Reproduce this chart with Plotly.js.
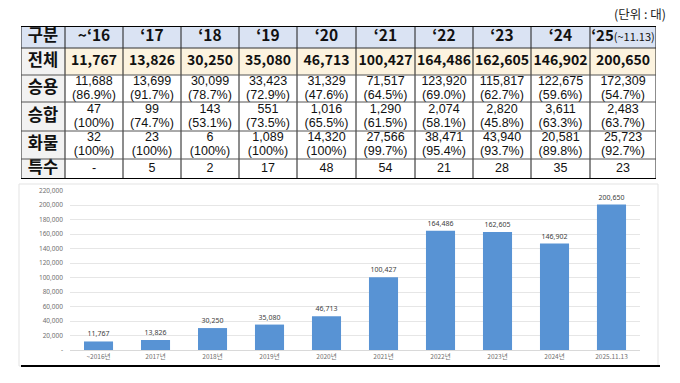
<!DOCTYPE html>
<html><head><meta charset="utf-8">
<script src="https://cdn.plot.ly/plotly-3.0.1.min.js"></script>
<style>html,body{margin:0;padding:0;background:#fff}#chart{width:680px;height:383px}</style>
</head><body><div id="chart"></div>
<script>
// ---- data ----
const periods = ["~‘16","‘17","‘18","‘19","‘20","‘21","‘22","‘23","‘24","‘25"];
const periodNote = "(~11.13)";
const cornerLabel = "구분";
const rowLabels = ["전체","승용","승합","화물","특수"];
const total = [11767,13826,30250,35080,46713,100427,164486,162605,146902,200650];
const passenger = [11688,13699,30099,33423,31329,71517,123920,115817,122675,172309];
const passengerPct = ["86.9%","91.7%","78.7%","72.9%","47.6%","64.5%","69.0%","62.7%","59.6%","54.7%"];
const van = [47,99,143,551,1016,1290,2074,2820,3611,2483];
const vanPct = ["100%","74.7%","53.1%","73.5%","65.5%","61.5%","58.1%","45.8%","63.3%","63.7%"];
const truck = [32,23,6,1089,14320,27566,38471,43940,20581,25723];
const truckPct = ["100%","100%","100%","100%","100%","99.7%","95.4%","93.7%","89.8%","92.7%"];
const special = ["-",5,2,17,48,54,21,28,35,23];
const barCategories = ["~2016년","2017년","2018년","2019년","2020년","2021년","2022년","2023년","2024년","2025.11.13"];
const yTickVals = [0,20000,40000,60000,80000,100000,120000,140000,160000,180000,200000,220000];
const unitNote = "(단위 : 대)";

// ---- table geometry (layout, in px units of the table axes) ----
const colWidths = [44,58,58,58,58,59,59,58,58,59,66];
const rowHeights = [22,27,27,29,28,20];
const xEdges = [0]; colWidths.forEach(w=>xEdges.push(xEdges[xEdges.length-1]+w));
const yEdges = [0]; rowHeights.forEach(h=>yEdges.push(yEdges[yEdges.length-1]+h));
const TW = xEdges[xEdges.length-1], TH = yEdges[yEdges.length-1];
const xc = i => (xEdges[i]+xEdges[i+1])/2;
const yc = j => (yEdges[j]+yEdges[j+1])/2;

const fmt = v => (typeof v === "number") ? v.toLocaleString("en-US") : v;
const CJK = "'Noto Sans CJK KR', 'Noto Sans', sans-serif";
const LAT = "'Liberation Sans', Arial, sans-serif";

// fill categories: 0 header, 1 row label, 2 total row, 3 body
const z = [];
for (let r=0;r<rowHeights.length;r++){
  const row=[];
  for (let c=0;c<colWidths.length;c++){
    row.push(r===0 ? 0 : (c===0 ? 1 : (r===1 ? 2 : 3)));
  }
  z.push(row);
}

// text items
const tx=[], ty=[], tt=[], ts=[], tf=[];
function put(x,y,t,s,f){tx.push(x);ty.push(y);tt.push(t);ts.push(s);tf.push(f||CJK);}
put(xc(0), yc(0), "<b>"+cornerLabel+"</b>", 16.5);
periods.forEach((p,i)=>{
  if (i===periods.length-1) put(xc(i+1), yc(0), "<b>"+p+"</b><span style='font-size:11px'>"+periodNote+"</span>", 15);
  else put(xc(i+1), yc(0), "<b>"+p+"</b>", 15.5);
});
rowLabels.forEach((r,j)=> put(xc(0), yc(j+1), "<b>"+r+"</b>", 16.5));
const pairs = [[passenger,passengerPct],[van,vanPct],[truck,truckPct]];
for (let i=0;i<periods.length;i++){
  put(xc(i+1), yc(1), "<b>"+fmt(total[i])+"</b>", 14);
  pairs.forEach((pr,k)=>{
    put(xc(i+1), yc(k+2)-7, fmt(pr[0][i]), 12.5, LAT);
    put(xc(i+1), yc(k+2)+7, "("+pr[1][i]+")", 12.5, LAT);
  });
  put(xc(i+1), yc(5), fmt(special[i]), 12.5, LAT);
}

const fillTrace = {
  type:"heatmap", xaxis:"x2", yaxis:"y2",
  x: xEdges, y: yEdges, z: z,
  zmin:0, zmax:3, showscale:false, hoverinfo:"skip",
  colorscale:[[0,"#dae3f3"],[0.3333,"#f2f2f2"],[0.6667,"#fcf3df"],[1,"#ffffff"]]
};
const textTrace = {
  type:"scatter", mode:"text", xaxis:"x2", yaxis:"y2",
  x: tx, y: ty, text: tt, textposition:"middle center",
  textfont:{size: ts, color:"#111", family: tf},
  cliponaxis:false, hoverinfo:"skip"
};

const bars = {
  type:"bar",
  x: barCategories,
  y: total,
  xaxis:"x", yaxis:"y",
  marker:{color:"#5893d4", line:{width:0}},
  width:0.51,
  text: total.map(fmt),
  textposition:"outside",
  textfont:{size:7, color:"#404040", family:"'Noto Sans', sans-serif"},
  cliponaxis:false,
  hoverinfo:"skip"
};

// table grid lines
const shapes = [];
xEdges.forEach(x=>shapes.push({type:"line", xref:"x2", yref:"y2", x0:x, x1:x, y0:0, y1:TH, line:{color:"#1a1a1a", width:1}}));
yEdges.forEach((y,j)=>{
  const outer = (j===0 || j===yEdges.length-1);
  shapes.push({type:"line", xref:"x2", yref:"y2", x0:0, x1:TW, y0:y, y1:y,
    line:{color: outer ? "#000" : (j===1 ? "#333" : "#555"), width: outer ? 2 : 1}});
});
// chart frame
shapes.push({type:"rect", xref:"paper", yref:"paper", x0:19/680, x1:658/680, y0:1-366/383, y1:1-184/383,
  line:{color:"#e3e3e3", width:1}, fillcolor:"rgba(0,0,0,0)", layer:"below"});
shapes.push({type:"line", xref:"paper", yref:"paper", x0:21/680, x1:660/680, y0:1-366/383, y1:1-366/383,
  line:{color:"#000", width:2}});

const hidden = {showgrid:false, zeroline:false, showticklabels:false, ticks:"", showline:false, fixedrange:true};

const layout = {
  width:680, height:383,
  margin:{l:0,r:0,t:0,b:0},
  paper_bgcolor:"#fff", plot_bgcolor:"rgba(0,0,0,0)",
  showlegend:false,
  xaxis:{
    domain:[70/680, 640/680],
    type:"category",
    tickfont:{size:6.5, color:"#707070", family:"'Noto Sans CJK KR', sans-serif"},
    showgrid:false, zeroline:false, showline:true, linecolor:"#d9d9d9", linewidth:1,
    ticks:"", fixedrange:true
  },
  yaxis:{
    domain:[1-350/383, 1-190.5/383],
    range:[0,220000],
    tickvals: yTickVals,
    ticktext: yTickVals.map(v=> v===0 ? "-" : fmt(v)),
    tickfont:{size:6.5, color:"#707070", family:"'Noto Sans', sans-serif"},
    showgrid:true, gridcolor:"#e6e6e6", gridwidth:1,
    zeroline:false, showline:false, ticks:"", ticklabelstandoff:6, fixedrange:true
  },
  xaxis2: Object.assign({domain:[21/680, (21+TW)/680], range:[0,TW], anchor:"y2"}, hidden),
  yaxis2: Object.assign({domain:[1-(26+TH)/383, 1-26/383], range:[TH,0], anchor:"x2"}, hidden),
  annotations:[{
    text: unitNote, xref:"paper", yref:"paper",
    x:668/680, y:1-14/383, xanchor:"right", yanchor:"middle", showarrow:false,
    font:{size:12.5, color:"#222", family:"'Noto Sans CJK KR', sans-serif"}
  }],
  shapes: shapes
};

Plotly.newPlot("chart", [fillTrace, textTrace, bars], layout, {staticPlot:true, displayModeBar:false});
</script></body></html>
